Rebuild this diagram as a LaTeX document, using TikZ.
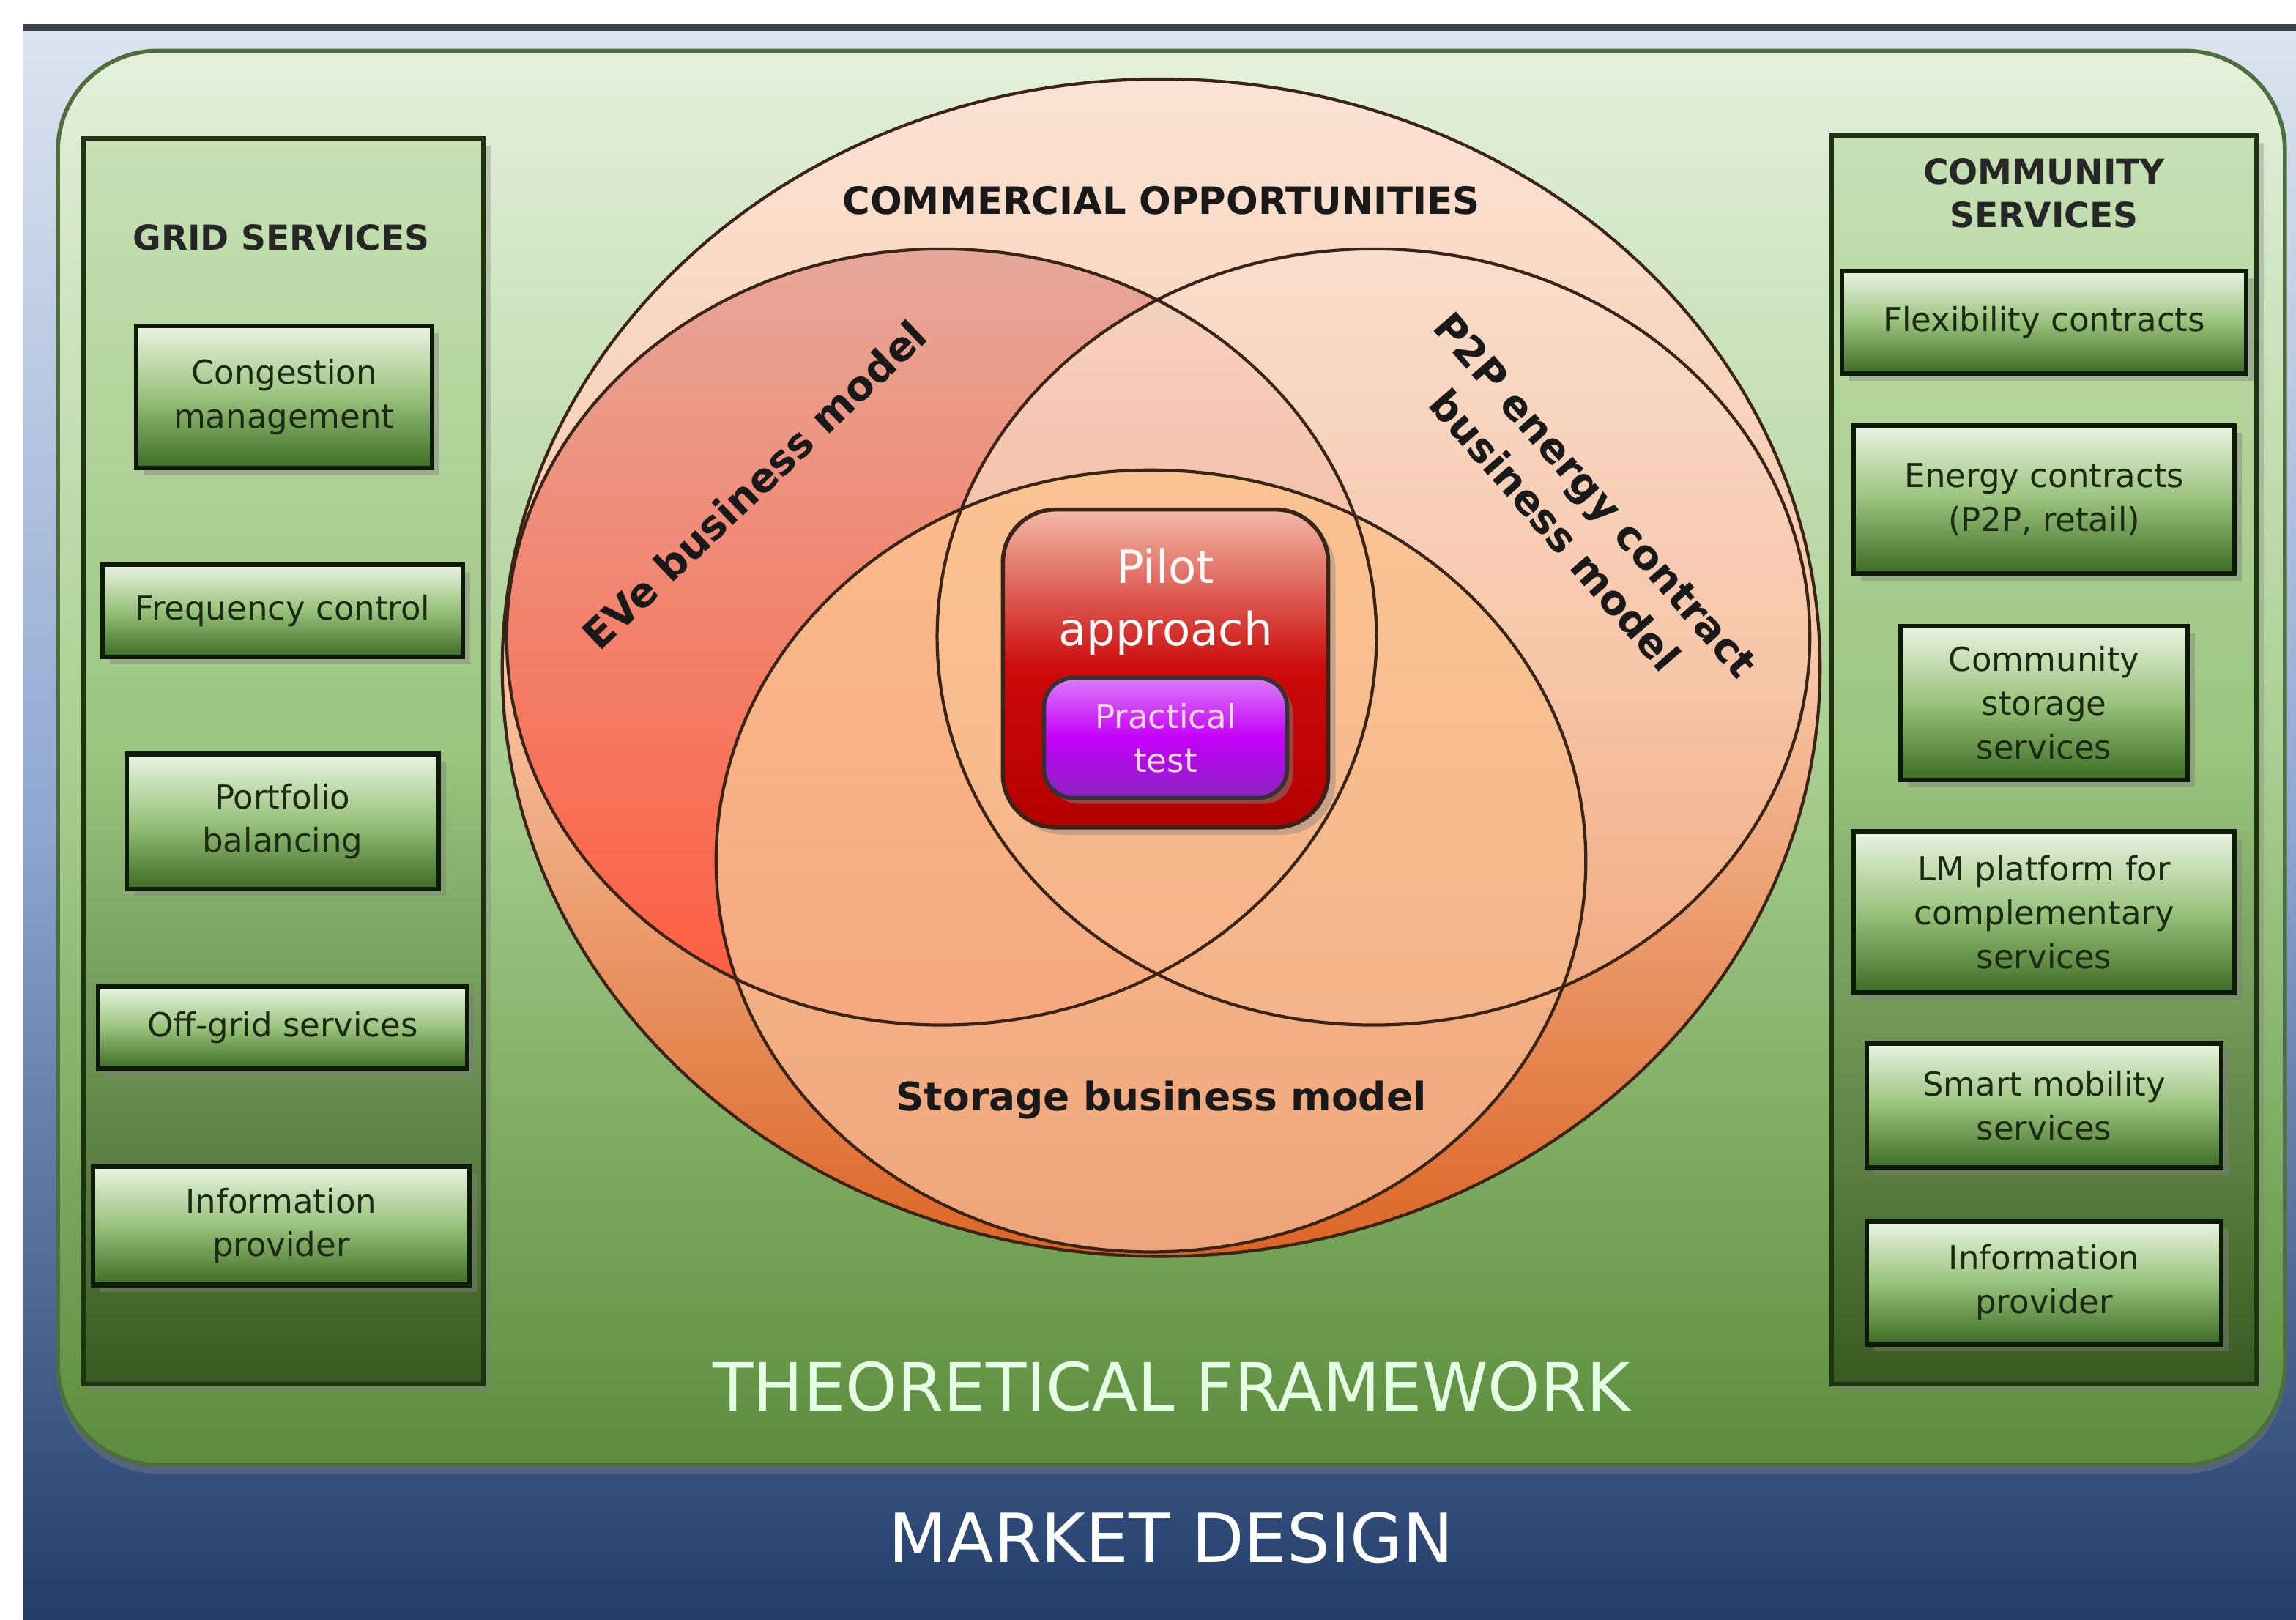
\documentclass[tikz,border=0pt]{standalone}
\usepackage{fontspec}
\setmainfont{DejaVu Sans}
\usetikzlibrary{shadows}

\definecolor{bgtop}{HTML}{DCE4F0}
\definecolor{bgmid}{HTML}{8FA7D1}
\definecolor{bgbot}{HTML}{223D6A}
\definecolor{topline}{HTML}{3A4350}
\definecolor{frametop}{HTML}{E4F0DC}
\definecolor{framemid}{HTML}{A9CF90}
\definecolor{framebot}{HTML}{5B8D3C}
\definecolor{frameline}{HTML}{4F6E3E}
\definecolor{paneltop}{HTML}{C7E1B5}
\definecolor{panelmid}{HTML}{9AC47E}
\definecolor{panelbot}{HTML}{375A20}
\definecolor{panelline}{HTML}{1E3312}
\definecolor{boxtop}{HTML}{EAF4E2}
\definecolor{boxmid}{HTML}{99C27C}
\definecolor{boxbot}{HTML}{3E6C24}
\definecolor{boxline}{HTML}{0E1A08}
\definecolor{boxtext}{HTML}{1B2A12}
\definecolor{ringline}{HTML}{3A2418}
\definecolor{comtop}{HTML}{FBE3D4}
\definecolor{commid}{HTML}{F7C6A6}
\definecolor{combot}{HTML}{DC6424}
\definecolor{evetop}{HTML}{E6A89A}
\definecolor{evebot}{HTML}{FF5A3C}
\definecolor{ptoptop}{HTML}{F9DFCF}
\definecolor{ptopbot}{HTML}{F4B088}
\definecolor{stortop}{HTML}{FCC48E}
\definecolor{storbot}{HTML}{F2B08A}
\definecolor{pilottop}{HTML}{F2BAA8}
\definecolor{pilotmid}{HTML}{CC0A0A}
\definecolor{pilotbot}{HTML}{B40000}
\definecolor{testtop}{HTML}{DA7CF8}
\definecolor{testmid}{HTML}{C400F8}
\definecolor{testbot}{HTML}{8A24C0}

\begin{document}
\begin{tikzpicture}[x=0.01cm,y=-0.01cm,
  svcbox/.style={draw=boxline, line width=0.9pt, top color=boxtop, bottom color=boxbot, middle color=boxmid,
    drop shadow={shadow xshift=0.05cm, shadow yshift=-0.05cm, opacity=0.45},
    align=center, inner sep=0pt, text=boxtext, font=\fontsize{6.4}{8.5}\selectfont},
  panel/.style={draw=panelline, line width=0.9pt, top color=paneltop, bottom color=panelbot, middle color=panelmid,
    drop shadow={shadow xshift=0.05cm, shadow yshift=-0.05cm, opacity=0.35}, inner sep=0pt},
  head/.style={align=center, text=black!85, font=\bfseries\fontsize{6.7}{8.5}\selectfont},
  ring/.style={draw=ringline, line width=0.6pt},
  tag/.style={align=center, text=black!90, font=\bfseries\fontsize{7.9}{10.4}\selectfont}]

\useasboundingbox (0,0) rectangle (1568,1106);

% market design background
\shade[top color=bgtop, bottom color=bgbot, middle color=bgmid] (16,19) rectangle (1568,1106);
\draw[topline, line width=1.3pt] (16,19) -- (1568,19);

% theoretical framework
\node[draw=frameline, line width=0.8pt, rounded corners=0.68cm, top color=frametop, bottom color=framebot, middle color=framemid,
  drop shadow={shadow xshift=0cm, shadow yshift=-0.06cm, opacity=0.4},
  minimum width=15.2cm, minimum height=9.65cm] (frame) at (800,517.5) {};

% side panels
\node[panel, minimum width=2.73cm, minimum height=8.5cm] (grid) at (193.5,520) {};
\node[panel, minimum width=2.9cm, minimum height=8.52cm] (comm) at (1396,519) {};
\node[head] (gridhead) at (192,162) {GRID SERVICES};
\node[head] (commhead) at (1396,132) {COMMUNITY\\SERVICES};

\node[svcbox, minimum width=2.02cm, minimum height=0.97cm] (cong) at (194,271) {Congestion\\management};
\node[svcbox, minimum width=2.46cm, minimum height=0.63cm] (freq) at (193,417) {Frequency control};
\node[svcbox, minimum width=2.13cm, minimum height=0.92cm] (port) at (193,561) {Portfolio\\balancing};
\node[svcbox, minimum width=2.52cm, minimum height=0.56cm] (offgrid) at (193,702) {Off-grid services};
\node[svcbox, minimum width=2.57cm, minimum height=0.81cm] (infol) at (192,837) {Information\\provider};

\node[svcbox, minimum width=2.76cm, minimum height=0.70cm] (flex) at (1396,220) {Flexibility contracts};
\node[svcbox, minimum width=2.60cm, minimum height=1.01cm] (energy) at (1396,341) {Energy contracts\\(P2P, retail)};
\node[svcbox, minimum width=1.96cm, minimum height=1.05cm] (cstore) at (1396,480) {Community\\storage\\services};
\node[svcbox, minimum width=2.60cm, minimum height=1.10cm] (lmplat) at (1396,623) {LM platform for\\complementary\\services};
\node[svcbox, minimum width=2.42cm, minimum height=0.85cm] (mobility) at (1396,755) {Smart mobility\\services};
\node[svcbox, minimum width=2.42cm, minimum height=0.84cm] (infor) at (1396,876) {Information\\provider};

% commercial opportunities and the three business models
\coordinate (opp) at (793,456);
\coordinate (eve) at (643,435);
\coordinate (p2p) at (938,435);
\coordinate (store) at (786,588);

\shade[top color=comtop, bottom color=combot, middle color=commid] (opp) ellipse [x radius=450, y radius=402];
\shade[top color=evetop, bottom color=evebot] (eve) ellipse [x radius=297, y radius=265];
\shade[top color=ptoptop, bottom color=ptopbot, fill opacity=0.8] (p2p) ellipse [x radius=298, y radius=265];
\shade[top color=stortop, bottom color=storbot, fill opacity=0.85] (store) ellipse [x radius=297, y radius=267];

\draw[ring] (opp) ellipse [x radius=450, y radius=402];
\draw[ring] (eve) ellipse [x radius=297, y radius=265];
\draw[ring] (p2p) ellipse [x radius=298, y radius=265];
\draw[ring] (store) ellipse [x radius=297, y radius=267];

\node[tag, font=\bfseries\fontsize{7.3}{9}\selectfont] (opphead) at (793,137) {COMMERCIAL OPPORTUNITIES};
\node[tag, rotate=43.5] (evetag) at (515,331) {EVe business model};
\node[tag, rotate=-49] (p2ptag) at (1076,350) {P2P energy contract\\business model};
\node[tag, font=\bfseries\fontsize{7.6}{9}\selectfont] (storetag) at (793,751) {Storage business model};

% pilot approach
\node[draw=ringline, line width=0.8pt, rounded corners=0.36cm, top color=pilottop, bottom color=pilotbot, middle color=pilotmid,
  drop shadow={shadow xshift=0.05cm, shadow yshift=-0.05cm, opacity=0.4},
  minimum width=2.22cm, minimum height=2.17cm] (pilot) at (796,456.5) {};
\node[align=center, text=white!92!pink, font=\fontsize{8.9}{12}\selectfont] (pilottxt) at (796,411) {Pilot\\approach};
\node[draw=black!80, line width=0.8pt, rounded corners=0.2cm, top color=testtop, bottom color=testbot, middle color=testmid,
  drop shadow={shadow xshift=0.04cm, shadow yshift=-0.04cm, opacity=0.5},
  minimum width=1.66cm, minimum height=0.82cm, align=center, inner sep=0pt,
  text=pink!60!white, font=\fontsize{6.4}{8.5}\selectfont] (test) at (796,504) {Practical\\test};

% layer titles
\node[text=white!90!green, font=\fontsize{12.9}{14}\selectfont] (theorytxt) at (800,947) {THEORETICAL FRAMEWORK};
\node[text=white, font=\fontsize{13.2}{14}\selectfont] (markettxt) at (800,1050) {MARKET DESIGN};
\end{tikzpicture}
\end{document}
